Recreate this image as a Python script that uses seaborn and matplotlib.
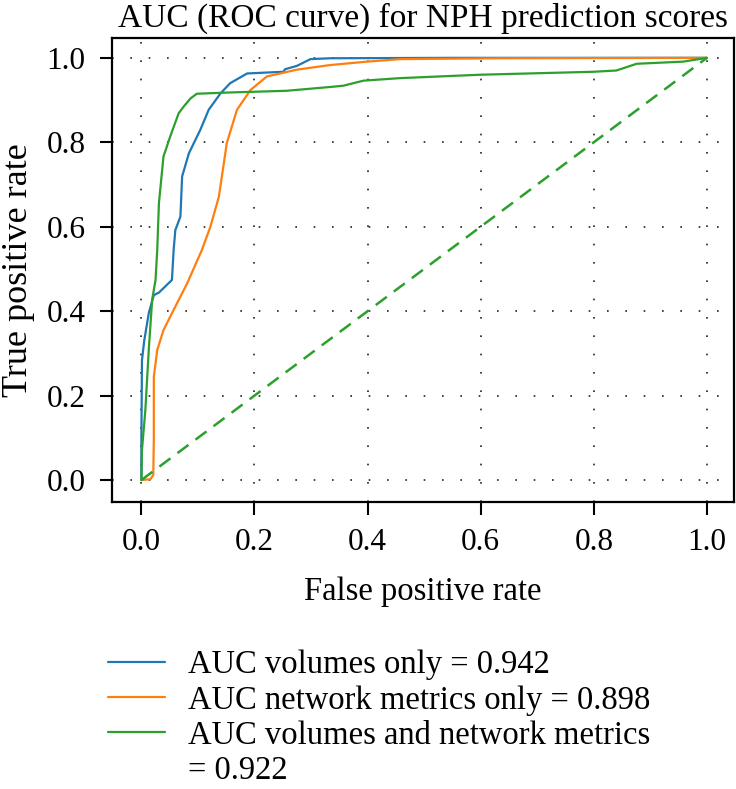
import matplotlib
matplotlib.use("Agg")
import matplotlib.pyplot as plt
import numpy as np
import pandas as pd
import seaborn as sns
from matplotlib.lines import Line2D

# Courbes ROC (FPR, TPR)
fpr_volumes = [0.0, 0.0, 0.001, 0.005, 0.013, 0.022, 0.031, 0.054, 0.057, 0.060, 0.069, 0.072,
               0.084, 0.104, 0.119, 0.140, 0.157, 0.187, 0.251, 0.254, 0.275, 0.299, 0.334, 0.55, 1.0]
tpr_volumes = [0.0, 0.10, 0.284, 0.33, 0.395, 0.438, 0.444, 0.474, 0.545, 0.592, 0.624, 0.719,
               0.774, 0.829, 0.877, 0.916, 0.940, 0.963, 0.967, 0.973, 0.981, 0.997, 0.999, 1.0, 1.0]

fpr_network = [0.0, 0.016, 0.021, 0.022, 0.022, 0.028, 0.039, 0.057, 0.081, 0.107, 0.122, 0.137,
               0.151, 0.169, 0.193, 0.222, 0.275, 0.334, 0.399, 0.458, 0.634, 1.0]
tpr_network = [0.0, 0.002, 0.012, 0.10, 0.245, 0.308, 0.355, 0.403, 0.466, 0.545, 0.600, 0.671,
               0.798, 0.877, 0.924, 0.956, 0.972, 0.983, 0.991, 0.997, 0.999, 1.0]

fpr_both = [0.0, 0.001, 0.007, 0.013, 0.019, 0.025, 0.028, 0.031, 0.039, 0.051, 0.066, 0.075, 0.087,
            0.098, 0.157, 0.257, 0.334, 0.357, 0.393, 0.458, 0.599, 0.799, 0.840, 0.876, 0.958, 1.0]
tpr_both = [0.0, 0.071, 0.166, 0.308, 0.427, 0.474, 0.545, 0.656, 0.766, 0.814, 0.869, 0.885, 0.904,
            0.915, 0.918, 0.922, 0.931, 0.934, 0.946, 0.952, 0.960, 0.967, 0.970, 0.986, 0.991, 1.0]

labels = ["AUC volumes only = 0.942",
          "AUC network metrics only = 0.898",
          "AUC volumes and network metrics"]
label_tail = "= 0.922"
colors = ["#1f77b4", "#ff7f0e", "#2ca02c"]
ticks = [0.0, 0.2, 0.4, 0.6, 0.8, 1.0]

sns.set_theme(style="ticks")
plt.rcParams["font.family"] = ["Liberation Serif", "DejaVu Serif"]
plt.rcParams["text.color"] = "black"
plt.rcParams["axes.labelcolor"] = "black"

fig = plt.figure(figsize=(7.36, 7.89), dpi=100)
ax = fig.add_axes([112 / 736, 1 - 502 / 789, (734 - 112) / 736, (502 - 38) / 789])

curves = [(fpr_volumes, tpr_volumes), (fpr_network, tpr_network), (fpr_both, tpr_both)]
handles = []
for (fx, ty), col in zip(curves, colors):
    df = pd.DataFrame({"fpr": fx, "tpr": ty})
    sns.lineplot(data=df, x="fpr", y="tpr", sort=False, estimator=None,
                 color=col, linewidth=1.6, ax=ax)
    handles.append(ax.lines[-1])

# diagonale de référence
diag = pd.DataFrame({"fpr": [0.0, 1.0], "tpr": [0.0, 1.0]})
sns.lineplot(data=diag, x="fpr", y="tpr", color=colors[2], linewidth=1.8, ax=ax)
ax.lines[-1].set_dashes((5.5, 3.5))

ax.set_xlim(-0.052, 1.048)
ax.set_ylim(-0.052, 1.047)
ax.set_xticks(ticks)
ax.set_yticks(ticks)
ax.set_xticklabels([f"{t:.1f}" for t in ticks])
ax.set_yticklabels([f"{t:.1f}" for t in ticks])
ax.tick_params(axis="both", direction="out", length=9, width=1.5, labelsize=22.5,
               colors="black", pad=10)
ax.grid(True, color="#222222", linewidth=1.2, linestyle=(0, (1, 10)))
for sp in ax.spines.values():
    sp.set_visible(True)
    sp.set_linewidth(1.6)
    sp.set_color("black")

ax.set_title("AUC (ROC curve) for NPH prediction scores", fontsize=24, pad=8)
ax.set_xlabel("False positive rate", fontsize=23.5, labelpad=14)
ax.set_ylabel("True positive rate", fontsize=26, labelpad=8)

# légende sous le graphique, dernière étiquette sur deux lignes
blank = Line2D([], [], color="none")
fig.legend(handles + [blank], labels + [label_tail], loc="upper left",
           bbox_to_anchor=(108 / 736, 1 - 650 / 789),
           frameon=False, fontsize=23.5, handlelength=1.75, handletextpad=0.7,
           labelspacing=0.14, borderpad=0, borderaxespad=0)

fig.savefig("out.png", dpi=100)
